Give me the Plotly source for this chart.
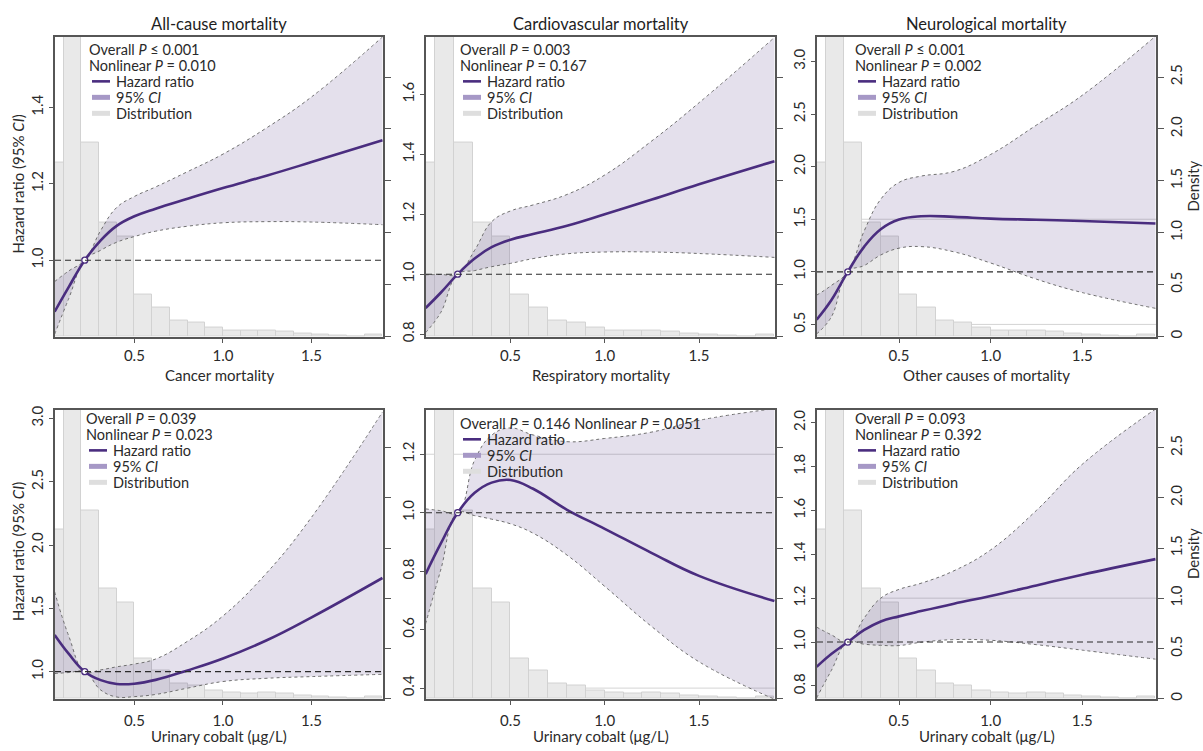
import plotly.graph_objects as go

W, H = 1203, 751
FONT = "Lato"

# ---------------- data ----------------
x_knots = [0.05, 0.13, 0.22, 0.31, 0.40, 0.50, 0.62, 0.80, 1.00, 1.25, 1.50, 1.90]
ref_x = 0.22
ref_hr = 1.0

bin_mid = [0.05, 0.15, 0.25, 0.35, 0.45, 0.55, 0.65, 0.75, 0.85, 0.95,
           1.05, 1.15, 1.25, 1.35, 1.45, 1.55, 1.65, 1.75, 1.85]
density = [1.68, 3.05, 1.87, 1.10, 0.96, 0.40, 0.275, 0.155, 0.13, 0.082,
           0.058, 0.053, 0.058, 0.048, 0.029, 0.021, 0.007, 0.004, 0.016]

allcause_hr = [0.865, 0.93, 1.0, 1.052, 1.090, 1.115, 1.135, 1.161, 1.189, 1.222, 1.257, 1.314]
allcause_hi = [0.944, 0.972, 1.0, 1.078, 1.138, 1.167, 1.192, 1.232, 1.278, 1.348, 1.428, 1.585]
allcause_lo = [0.806, 0.90, 1.0, 1.026, 1.047, 1.062, 1.076, 1.089, 1.098, 1.101, 1.100, 1.093]

cardio_hr = [0.887, 0.938, 1.0, 1.052, 1.090, 1.115, 1.134, 1.162, 1.20, 1.249, 1.300, 1.377]
cardio_hi = [0.998, 0.999, 1.0, 1.08, 1.175, 1.211, 1.231, 1.266, 1.331, 1.445, 1.572, 1.79]
cardio_lo = [0.805, 0.872, 1.0, 1.012, 1.025, 1.036, 1.052, 1.068, 1.074, 1.074, 1.069, 1.056]

neuro_hr = [0.545, 0.73, 1.0, 1.24, 1.405, 1.497, 1.528, 1.523, 1.506, 1.495, 1.484, 1.459]
neuro_hi = [0.778, 0.87, 1.0, 1.39, 1.69, 1.85, 1.91, 1.955, 2.116, 2.395, 2.678, 3.24]
neuro_lo = [0.41, 0.57, 1.0, 1.06, 1.16, 1.225, 1.24, 1.19, 1.084, 0.93, 0.803, 0.653]

cancer_hr = [1.29, 1.14, 1.0, 0.933, 0.903, 0.905, 0.935, 1.01, 1.104, 1.25, 1.429, 1.74]
cancer_hi = [1.63, 1.28, 1.0, 1.014, 1.038, 1.06, 1.10, 1.24, 1.44, 1.785, 2.22, 3.05]
cancer_lo = [0.985, 0.993, 1.0, 0.855, 0.80, 0.803, 0.82, 0.87, 0.922, 0.948, 0.961, 0.979]

resp_hr = [0.79, 0.894, 1.0, 1.068, 1.103, 1.112, 1.082, 1.01, 0.945, 0.862, 0.784, 0.698]
resp_hi = [1.013, 1.007, 1.0, 1.18, 1.265, 1.29, 1.266, 1.243, 1.254, 1.276, 1.316, 1.356]
resp_lo = [0.62, 0.804, 1.0, 0.99, 0.978, 0.962, 0.93, 0.855, 0.748, 0.61, 0.49, 0.362]

other_hr = [0.887, 0.945, 1.0, 1.055, 1.094, 1.117, 1.141, 1.175, 1.21, 1.258, 1.307, 1.378]
other_hi = [1.068, 1.033, 1.0, 1.11, 1.20, 1.24, 1.268, 1.325, 1.42, 1.60, 1.81, 2.062]
other_lo = [0.745, 0.87, 1.0, 0.99, 0.985, 0.984, 0.999, 1.011, 1.008, 0.988, 0.963, 0.922]

x_ticks = [0.5, 1.0, 1.5]
x_ticktext = ["0.5", "1.0", "1.5"]
dens_ticks = [0, 0.5, 1.0, 1.5, 2.0, 2.5]
dens_ticktext = ["0", "0.5", "1.0", "1.5", "2.0", "2.5"]

# ---------------- styles ----------------
HR_COL = "#4a2d7f"
CI_FILL = "rgba(62,38,122,0.14)"
CI_EDGE = "#6f6f6f"
BAR_COL = "#e9e9e9"
BAR_EDGE = "#d2d2d2"
AX_COL = "#565656"
TXT = "#2a2a2a"
SMOOTH = 1.2

panels = [
    dict(title="All-cause mortality", xlabel="Cancer mortality", box=(55, 33, 383, 337),
         yr=[0.80, 1.586], yt=[1.0, 1.2, 1.4], hr=allcause_hr, lo=allcause_lo, hi=allcause_hi,
         ptext=["Overall <i>P</i> ≤ 0.001", "Nonlinear <i>P</i> = 0.010"],
         dens_labels=False, ytitle=True, glines=[], leg=(90, 46)),
    dict(title="Cardiovascular mortality", xlabel="Respiratory mortality", box=(426, 33, 775, 337),
         yr=[0.792, 1.793], yt=[0.8, 1.0, 1.2, 1.4, 1.6], hr=cardio_hr, lo=cardio_lo, hi=cardio_hi,
         ptext=["Overall <i>P</i> = 0.003", "Nonlinear <i>P</i> = 0.167"],
         dens_labels=False, ytitle=False, glines=[], leg=(461, 46)),
    dict(title="Neurological mortality", xlabel="Other causes of mortality", box=(817, 33, 1156, 337),
         yr=[0.385, 3.237], yt=[0.5, 1.0, 1.5, 2.0, 2.5, 3.0], hr=neuro_hr, lo=neuro_lo, hi=neuro_hi,
         ptext=["Overall <i>P</i> ≤ 0.001", "Nonlinear <i>P</i> = 0.002"],
         dens_labels=True, ytitle=False, glines=[1.5, 0.5], leg=(856, 46)),
    dict(title=None, xlabel="Urinary cobalt (μg/L)", box=(55, 411, 383, 704),
         yr=[0.787, 3.07], yt=[1.0, 1.5, 2.0, 2.5, 3.0], hr=cancer_hr, lo=cancer_lo, hi=cancer_hi,
         ptext=["Overall <i>P</i> = 0.039", "Nonlinear <i>P</i> = 0.023"],
         dens_labels=False, ytitle=True, glines=[], leg=(87, 420)),
    dict(title=None, xlabel="Urinary cobalt (μg/L)", box=(426, 411, 775, 704),
         yr=[0.364, 1.353], yt=[0.4, 0.6, 0.8, 1.0, 1.2], hr=resp_hr, lo=resp_lo, hi=resp_hi,
         ptext=["Overall <i>P</i> = 0.146 Nonlinear <i>P</i> = 0.051"],
         dens_labels=False, ytitle=False, glines=[1.2, 0.4], leg=(461, 425)),
    dict(title=None, xlabel="Urinary cobalt (μg/L)", box=(817, 411, 1156, 704),
         yr=[0.742, 2.06], yt=[0.8, 1.0, 1.2, 1.4, 1.6, 1.8, 2.0], hr=other_hr, lo=other_lo, hi=other_hi,
         ptext=["Overall <i>P</i> = 0.093", "Nonlinear <i>P</i> = 0.392"],
         dens_labels=True, ytitle=False, glines=[1.2], leg=(856, 420)),
]


def PX(px):
    return px / W


def PY(py):
    return 1 - py / H


def ax_id(letter, n):
    return letter if n == 1 else f"{letter}{n}"


fig = go.Figure()
layout = dict(
    width=W, height=H, margin=dict(l=0, r=0, t=0, b=0),
    paper_bgcolor="white", plot_bgcolor="rgba(0,0,0,0)",
    showlegend=False, font=dict(family=FONT, size=14, color=TXT),
)
annotations = []
shapes = []

for i, p in enumerate(panels, start=1):
    xa = ax_id("x", i)
    yd = ax_id("y", 2 * i - 1)
    yh = ax_id("y", 2 * i)
    x0, y0, x1, y1 = p["box"]
    bottom_row = i > 3

    # distribution histogram (density axis, right)
    fig.add_trace(go.Bar(x=bin_mid, y=density, width=0.1,
                         marker=dict(color=BAR_COL, line=dict(color=BAR_EDGE, width=1)),
                         xaxis=xa, yaxis=yd, hoverinfo="skip"))
    # faint horizontal lines
    for g in p["glines"]:
        shapes.append(dict(type="line", xref=f"{xa} domain", yref=yh, x0=0, x1=1, y0=g, y1=g,
                           line=dict(color="#d4d4d4", width=1), layer="below"))
    # CI
    fig.add_trace(go.Scatter(x=x_knots, y=p["lo"], mode="lines",
                             line=dict(color=CI_EDGE, width=1, dash="3px,3px", shape="spline", smoothing=SMOOTH),
                             xaxis=xa, yaxis=yh, hoverinfo="skip"))
    fig.add_trace(go.Scatter(x=x_knots, y=p["hi"], mode="lines", fill="tonexty", fillcolor=CI_FILL,
                             line=dict(color=CI_EDGE, width=1, dash="3px,3px", shape="spline", smoothing=SMOOTH),
                             xaxis=xa, yaxis=yh, hoverinfo="skip"))
    # HR = 1 reference
    shapes.append(dict(type="line", xref=f"{xa} domain", yref=yh, x0=0, x1=1, y0=1, y1=1,
                       line=dict(color="#2b2b2b", width=1.1, dash="6px,4px"), layer="above"))
    # hazard ratio
    fig.add_trace(go.Scatter(x=x_knots, y=p["hr"], mode="lines",
                             line=dict(color=HR_COL, width=2.6, shape="spline", smoothing=SMOOTH),
                             xaxis=xa, yaxis=yh, hoverinfo="skip"))
    fig.add_trace(go.Scatter(x=[ref_x], y=[ref_hr], mode="markers",
                             marker=dict(color="white", size=6, line=dict(color=HR_COL, width=1.3)),
                             xaxis=xa, yaxis=yh, hoverinfo="skip"))

    xdom = [PX(x0), PX(x1)]
    ydom = [PY(y1), PY(y0)]
    layout["xaxis" if i == 1 else f"xaxis{i}"] = dict(
        domain=xdom, anchor=yd, range=[0.052, 1.903], tickvals=x_ticks, ticktext=x_ticktext,
        showline=True, mirror=True, linecolor=AX_COL, linewidth=1.6, ticks="outside", ticklen=5,
        ticklabelstandoff=3 if bottom_row else 0,
        tickcolor=AX_COL, tickfont=dict(family=FONT, size=15, color=TXT), showgrid=False,
        zeroline=False, fixedrange=True,
    )
    layout["yaxis" if i == 1 else f"yaxis{2 * i - 1}"] = dict(
        domain=ydom, anchor=xa, side="right", range=[0, 2.89 if i <= 3 else 2.88],
        tickvals=dens_ticks, ticktext=dens_ticktext, showticklabels=p["dens_labels"],
        tickangle=-90, showline=True, linecolor=AX_COL, linewidth=1.6, ticks="outside", ticklen=6,
        tickcolor=AX_COL, tickfont=dict(family=FONT, size=15, color=TXT), showgrid=False,
        zeroline=False, fixedrange=True,
    )
    layout[f"yaxis{2 * i}"] = dict(
        overlaying=yd, anchor=xa, side="left", range=p["yr"], tickvals=p["yt"], tickformat=".1f",
        tickangle=-90, showline=True, linecolor=AX_COL, linewidth=1.6, ticks="outside", ticklen=4,
        tickcolor=AX_COL, tickfont=dict(family=FONT, size=15, color=TXT), showgrid=False,
        zeroline=False, fixedrange=True,
    )

    cx = (x0 + x1) / 2
    if p["title"]:
        annotations.append(dict(text=p["title"], x=PX(cx), y=PY(20), xref="paper", yref="paper",
                                xanchor="center", yanchor="middle", showarrow=False,
                                font=dict(family=FONT, size=16.5, color="#1e1e1e")))
    annotations.append(dict(text=p["xlabel"], x=PX(cx), y=PY(y1 + (38 if bottom_row else 39)),
                            xref="paper", yref="paper",
                            xanchor="center", yanchor="middle", showarrow=False,
                            font=dict(family=FONT, size=15, color=TXT)))
    if p["ytitle"]:
        annotations.append(dict(text="Hazard ratio (95% <i>CI</i>)", x=PX(18), y=PY((y0 + y1) / 2 - 2),
                                xref="paper", yref="paper", xanchor="center", yanchor="middle",
                                textangle=-90, showarrow=False, font=dict(family=FONT, size=15, color=TXT)))
    if p["dens_labels"]:
        annotations.append(dict(text="Density", x=PX(1193), y=PY((y0 + y1) / 2),
                                xref="paper", yref="paper", xanchor="center", yanchor="middle",
                                textangle=-90, showarrow=False, font=dict(family=FONT, size=15, color=TXT)))

    # in-panel legend
    lx, ly = p["leg"]
    row = ly
    for t in p["ptext"]:
        annotations.append(dict(text=t, x=PX(lx - 3), y=PY(row), xref="paper", yref="paper",
                                xanchor="left", yanchor="middle", showarrow=False,
                                font=dict(family=FONT, size=14.5, color=TXT)))
        row += 16.2
    items = [("Hazard ratio", HR_COL, 2.6), ("95% <i>CI</i>", "#a698c6", 5), ("Distribution", "#dedede", 5)]
    for label, col, wdt in items:
        shapes.append(dict(type="line", xref="paper", yref="paper", x0=PX(lx + 2), x1=PX(lx + 20),
                           y0=PY(row), y1=PY(row), line=dict(color=col, width=wdt), layer="above"))
        annotations.append(dict(text=label, x=PX(lx + 24), y=PY(row), xref="paper", yref="paper",
                                xanchor="left", yanchor="middle", showarrow=False,
                                font=dict(family=FONT, size=14.5, color=TXT)))
        row += 16.2

layout["annotations"] = annotations
layout["shapes"] = shapes
layout["bargap"] = 0
fig.update_layout(**layout)

fig.write_html("out.html", config={"displayModeBar": False},
               post_script="document.body.style.margin='0';document.body.style.overflow='hidden';")
